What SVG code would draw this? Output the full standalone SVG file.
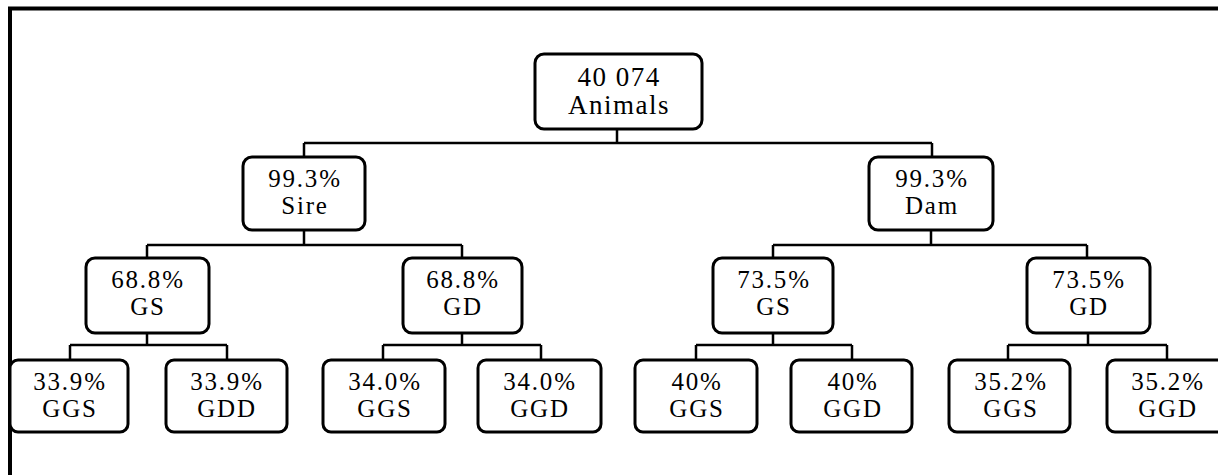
<svg xmlns="http://www.w3.org/2000/svg" width="1218" height="475" viewBox="0 0 1218 475">
<style>
.box{fill:#fff;stroke:#000;stroke-width:3}
.t{font-family:"Liberation Serif","Times New Roman",serif;font-size:25px;letter-spacing:1.8px;text-anchor:middle;fill:#000}
.r{font-size:27px;letter-spacing:1.5px}
.c{fill:none;stroke:#000;stroke-width:2.5}
</style>
<rect width="1218" height="475" fill="#fff"/>
<g id="frame">
<path d="M10 475 V8.5 H1218" fill="none" stroke="#000" stroke-width="4"/>
</g>
<g id="connectors">
<path class="c" d="M617 129 V143 M304 143 H932 M304 143 V157 M932 143 V157"/>
<path class="c" d="M304 230 V245 M147 245 H462 M147 245 V258 M462 245 V258"/>
<path class="c" d="M931 230 V245 M773 245 H1087 M773 245 V258 M1087 245 V258"/>
<path class="c" d="M147 333 V345 M70 345 H227 M70 345 V360 M227 345 V360"/>
<path class="c" d="M462 333 V345 M383 345 H541 M383 345 V360 M541 345 V360"/>
<path class="c" d="M773 333 V345 M696 345 H852 M696 345 V360 M852 345 V360"/>
<path class="c" d="M1088 333 V345 M1008 345 H1167 M1008 345 V360 M1167 345 V360"/>
</g>
<g id="root">
<rect class="box" x="535" y="54" width="167" height="75" rx="9"/>
<text class="t r" x="619" y="86">40 074</text>
<text class="t r" x="619" y="114">Animals</text>
</g>
<g id="sire">
<rect class="box" x="243" y="157" width="122" height="73" rx="9"/>
<text class="t" x="305" y="187">99.3%</text>
<text class="t" x="305" y="214">Sire</text>
</g>
<g id="dam">
<rect class="box" x="869" y="157" width="124" height="73" rx="9"/>
<text class="t" x="932" y="187">99.3%</text>
<text class="t" x="932" y="214">Dam</text>
</g>
<g id="sire-gs">
<rect class="box" x="86" y="258" width="123" height="75" rx="9"/>
<text class="t" x="148" y="288">68.8%</text>
<text class="t" x="148" y="315">GS</text>
</g>
<g id="sire-gd">
<rect class="box" x="403" y="258" width="119" height="75" rx="9"/>
<text class="t" x="463" y="288">68.8%</text>
<text class="t" x="463" y="315">GD</text>
</g>
<g id="dam-gs">
<rect class="box" x="713" y="258" width="120" height="75" rx="9"/>
<text class="t" x="774" y="288">73.5%</text>
<text class="t" x="774" y="315">GS</text>
</g>
<g id="dam-gd">
<rect class="box" x="1027" y="258" width="123" height="75" rx="9"/>
<text class="t" x="1089" y="288">73.5%</text>
<text class="t" x="1089" y="315">GD</text>
</g>
<g id="ggs1">
<rect class="box" x="10" y="360" width="118" height="72" rx="8"/>
<text class="t" x="70" y="390">33.9%</text>
<text class="t" x="70" y="417">GGS</text>
</g>
<g id="gdd1">
<rect class="box" x="166" y="360" width="121" height="72" rx="8"/>
<text class="t" x="227" y="390">33.9%</text>
<text class="t" x="227" y="417">GDD</text>
</g>
<g id="ggs2">
<rect class="box" x="323" y="360" width="122" height="72" rx="8"/>
<text class="t" x="385" y="390">34.0%</text>
<text class="t" x="385" y="417">GGS</text>
</g>
<g id="ggd2">
<rect class="box" x="478" y="360" width="123" height="72" rx="8"/>
<text class="t" x="540" y="390">34.0%</text>
<text class="t" x="540" y="417">GGD</text>
</g>
<g id="ggs3">
<rect class="box" x="635" y="360" width="122" height="72" rx="8"/>
<text class="t" x="697" y="390">40%</text>
<text class="t" x="697" y="417">GGS</text>
</g>
<g id="ggd3">
<rect class="box" x="791" y="360" width="121" height="72" rx="8"/>
<text class="t" x="853" y="390">40%</text>
<text class="t" x="853" y="417">GGD</text>
</g>
<g id="ggs4">
<rect class="box" x="949" y="360" width="121" height="72" rx="8"/>
<text class="t" x="1011" y="390">35.2%</text>
<text class="t" x="1011" y="417">GGS</text>
</g>
<g id="ggd4">
<rect class="box" x="1107" y="360" width="122" height="72" rx="8"/>
<text class="t" x="1168" y="390">35.2%</text>
<text class="t" x="1168" y="417">GGD</text>
</g>
</svg>
